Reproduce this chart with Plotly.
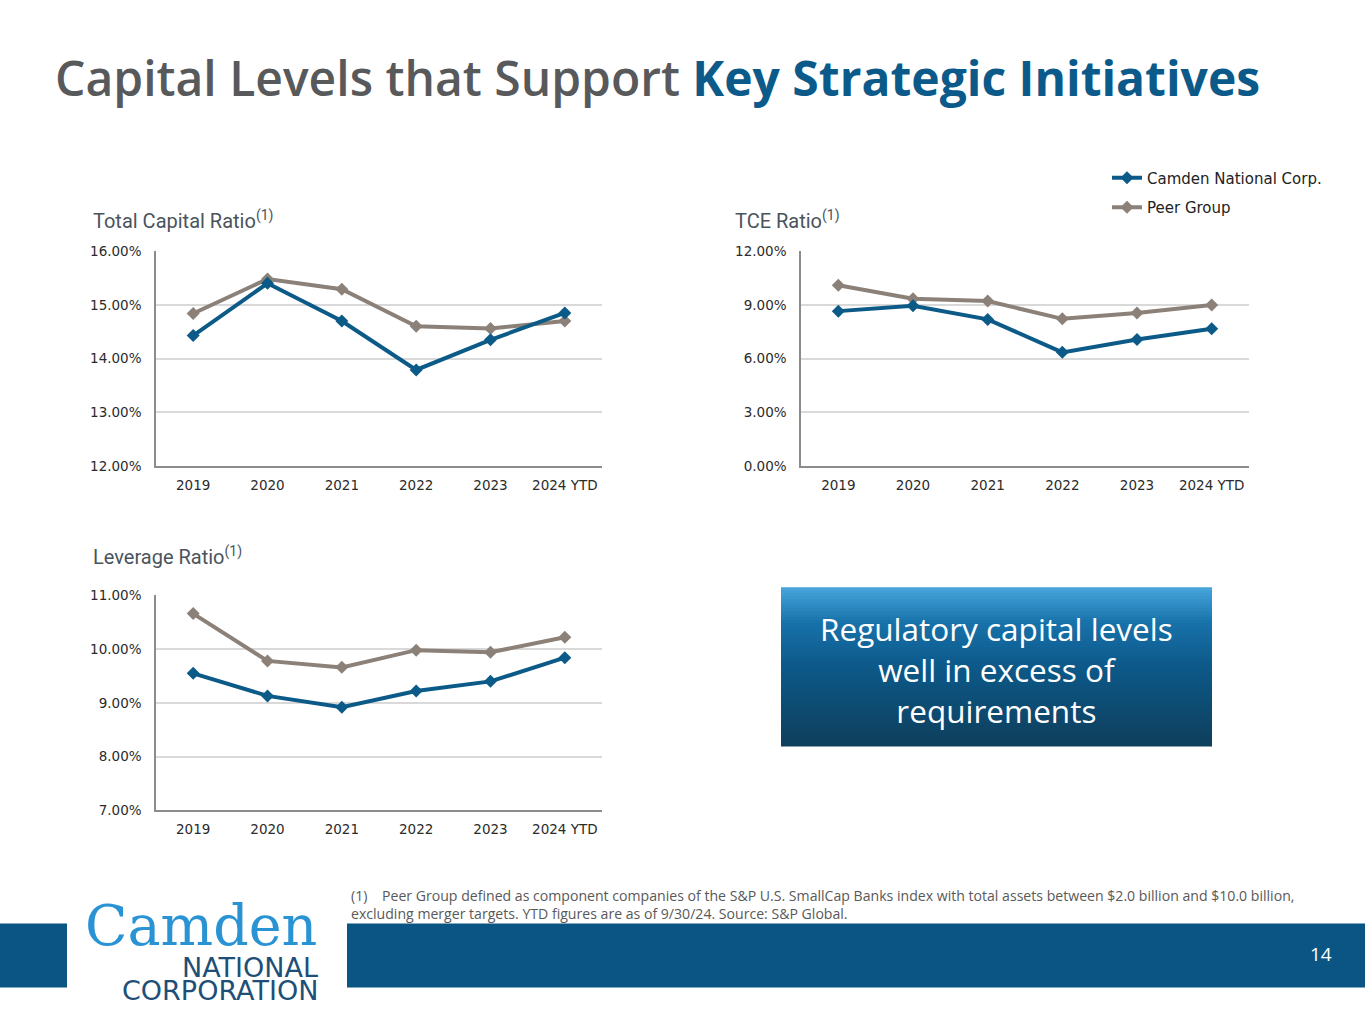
import plotly.graph_objects as go

W, H = 1365, 1024

years = ["2019", "2020", "2021", "2022", "2023", "2024 YTD"]

total_capital_camden = [14.43, 15.40, 14.70, 13.79, 14.35, 14.85]
total_capital_peer = [14.84, 15.48, 15.29, 14.60, 14.56, 14.70]

tce_camden = [8.65, 8.95, 8.19, 6.35, 7.07, 7.67]
tce_peer = [10.09, 9.34, 9.21, 8.22, 8.54, 8.99]

leverage_camden = [9.55, 9.13, 8.92, 9.22, 9.40, 9.84]
leverage_peer = [10.66, 9.78, 9.66, 9.98, 9.94, 10.22]

series_names = ["Camden National Corp.", "Peer Group"]

CAMDEN = "#0c5a87"
PEER = "#8b8179"
TEXT_DARK = "#4a545c"

# the page is photographed with a slight vertical squeeze; compensate
Y_OFF, Y_SCALE = 8.1, 0.9837


def px(x):
    return x / W


def py(y):
    return 1 - ((y - Y_OFF) / Y_SCALE) / H


fig = go.Figure()

charts = [
    ("x", "y", total_capital_camden, total_capital_peer, True),
    ("x2", "y2", tce_camden, tce_peer, False),
    ("x3", "y3", leverage_camden, leverage_peer, False),
]

for xa, ya, cam, peer, show in charts:
    # peer drawn first so Camden sits on top
    fig.add_trace(go.Scatter(
        x=years, y=peer, xaxis=xa, yaxis=ya, mode="lines+markers",
        name=series_names[1], legendgroup="p", showlegend=show, legendrank=2,
        line=dict(color=PEER, width=4),
        marker=dict(symbol="diamond", size=10, color=PEER),
        cliponaxis=False,
    ))
    fig.add_trace(go.Scatter(
        x=years, y=cam, xaxis=xa, yaxis=ya, mode="lines+markers",
        name=series_names[0], legendgroup="c", showlegend=show, legendrank=1,
        line=dict(color=CAMDEN, width=4),
        marker=dict(symbol="diamond", size=10, color=CAMDEN),
        cliponaxis=False,
    ))

tick_font = dict(family="DejaVu Sans", size=13.5, color="#2b2b2b")


def xaxis_cfg(x0, x1, anchor):
    return dict(
        domain=[px(x0), px(x1)], anchor=anchor, type="category",
        range=[-0.5, 5.5], showline=True, linecolor="#8c8c8c", linewidth=1.5,
        showgrid=False, ticks="", tickfont=tick_font, ticklabelstandoff=6,
        fixedrange=True,
    )


def yaxis_cfg(y0, y1, anchor, rng, dtick):
    return dict(
        domain=[py(y1), py(y0)], anchor=anchor, range=rng, dtick=dtick,
        tick0=rng[0], showline=True, linecolor="#8c8c8c", linewidth=1.5,
        showgrid=True, gridcolor="#d9d9d9", gridwidth=1.5, zeroline=False,
        tickformat=".2f", ticksuffix="%", ticks="", tickfont=tick_font,
        ticklabelstandoff=10, fixedrange=True,
    )


fig.update_layout(
    width=W, height=H, margin=dict(l=0, r=0, t=0, b=0),
    paper_bgcolor="white", plot_bgcolor="white",
    xaxis=xaxis_cfg(156, 602, "y"),
    yaxis=yaxis_cfg(251, 466, "x", [12, 16], 1),
    xaxis2=xaxis_cfg(801, 1249, "y2"),
    yaxis2=yaxis_cfg(251, 466, "x2", [0, 12], 3),
    xaxis3=xaxis_cfg(156, 602, "y3"),
    yaxis3=yaxis_cfg(595, 810, "x3", [7, 11], 1),
    legend=dict(
        x=px(1107), y=py(161.5), xanchor="left", yanchor="top",
        font=dict(family="DejaVu Sans", size=15, color="#222222"),
        bgcolor="rgba(0,0,0,0)", itemwidth=30, tracegroupgap=7,
        traceorder="grouped",
    ),
    showlegend=True,
)

annotations = []
shapes = []

# Main title
annotations.append(dict(
    x=px(53), y=py(78), xref="paper", yref="paper", xanchor="left", yanchor="middle",
    showarrow=False,
    text="<span style='color:#58595b'>Capital Levels that Support </span>"
         "<b><span style='color:#0b5a8a'>Key Strategic Initiatives</span></b>",
    font=dict(family="Open Sans", size=48, color="#58595b", weight=600),
))

# Chart titles
for x0, y0, t in [(91, 220, "Total Capital Ratio"), (733, 220, "TCE Ratio"), (91, 556, "Leverage Ratio")]:
    annotations.append(dict(
        x=px(x0), y=py(y0), xref="paper", yref="paper", xanchor="left", yanchor="middle",
        showarrow=False, text=t + "<sup>(1)</sup>",
        font=dict(family="Roboto", size=20, color=TEXT_DARK),
    ))

# Callout box with vertical gradient built from thin overlapping stripes
bx0, bx1, by0, by1 = 781, 1212, 587, 746
stops = [(0.0, (72, 166, 221)), (0.22, (24, 114, 170)), (0.5, (13, 89, 137)), (1.0, (14, 62, 92))]


def grad(t):
    for (t0, c0), (t1, c1) in zip(stops[:-1], stops[1:]):
        if t <= t1:
            f = (t - t0) / (t1 - t0) if t1 > t0 else 0
            return "rgb(%d,%d,%d)" % tuple(round(a + (b - a) * f) for a, b in zip(c0, c1))
    return "rgb(%d,%d,%d)" % stops[-1][1]


n = 53
step = (by1 - by0) / n
for i in range(n):
    ya = by0 + step * i
    yb = min(by0 + step * (i + 1) + 2.5, by1)
    shapes.append(dict(
        type="rect", xref="paper", yref="paper", layer="below",
        x0=px(bx0), x1=px(bx1), y0=py(yb), y1=py(ya),
        fillcolor=grad((i + 0.5) / n), line=dict(width=0),
    ))

annotations.append(dict(
    x=px((bx0 + bx1) / 2), y=py(669), xref="paper", yref="paper",
    xanchor="center", yanchor="middle", showarrow=False, align="center",
    text="Regulatory capital levels<br>well in excess of<br>requirements",
    font=dict(family="Open Sans", size=31.5, color="white"),
))

# Footnote
annotations.append(dict(
    x=px(349), y=py(904), xref="paper", yref="paper", xanchor="left", yanchor="middle",
    showarrow=False, align="left",
    text="(1)&nbsp;&nbsp;&nbsp;&nbsp;Peer Group defined as component companies of the S&P U.S. SmallCap Banks index "
         "with total assets between $2.0 billion and $10.0 billion,<br>"
         "excluding merger targets. YTD figures are as of 9/30/24. Source: S&P Global.",
    font=dict(family="Open Sans", size=14.1, color="#595959"),
))

# Footer band
BAND = "#0a5584"
shapes.append(dict(type="rect", xref="paper", yref="paper", x0=0, x1=px(67),
                   y0=py(987), y1=py(923), fillcolor=BAND, line=dict(width=0)))
shapes.append(dict(type="rect", xref="paper", yref="paper", x0=px(347), x1=1,
                   y0=py(987), y1=py(923), fillcolor=BAND, line=dict(width=0)))

annotations.append(dict(
    x=px(1321), y=py(953), xref="paper", yref="paper", xanchor="center", yanchor="middle",
    showarrow=False, text="14", font=dict(family="Open Sans", size=19, color="white"),
))

# Logo
annotations.append(dict(
    x=px(319), y=py(925), xref="paper", yref="paper", xanchor="right", yanchor="middle",
    showarrow=False, text="Camden",
    font=dict(family="DejaVu Serif", size=55.5, color="#2a93d3"),
))
annotations.append(dict(
    x=px(320), y=py(967), xref="paper", yref="paper", xanchor="right", yanchor="middle",
    showarrow=False, text="NATIONAL",
    font=dict(family="DejaVu Sans", size=27, color="#1d4f78"),
))
annotations.append(dict(
    x=px(320), y=py(990), xref="paper", yref="paper", xanchor="right", yanchor="middle",
    showarrow=False, text="CORPORATION",
    font=dict(family="DejaVu Sans", size=27, color="#1d4f78"),
))

fig.update_layout(annotations=annotations, shapes=shapes)

post = (
    "document.documentElement.style.margin='0';"
    "document.documentElement.style.overflow='hidden';"
    "document.body.style.margin='0';"
    "document.body.style.overflow='hidden';"
    "var d=document.getElementById('{plot_id}');"
    "d.style.position='fixed';d.style.left='0px';d.style.top='0px';"
)

fig.write_html("out.html", config={"displayModeBar": False}, post_script=post)
